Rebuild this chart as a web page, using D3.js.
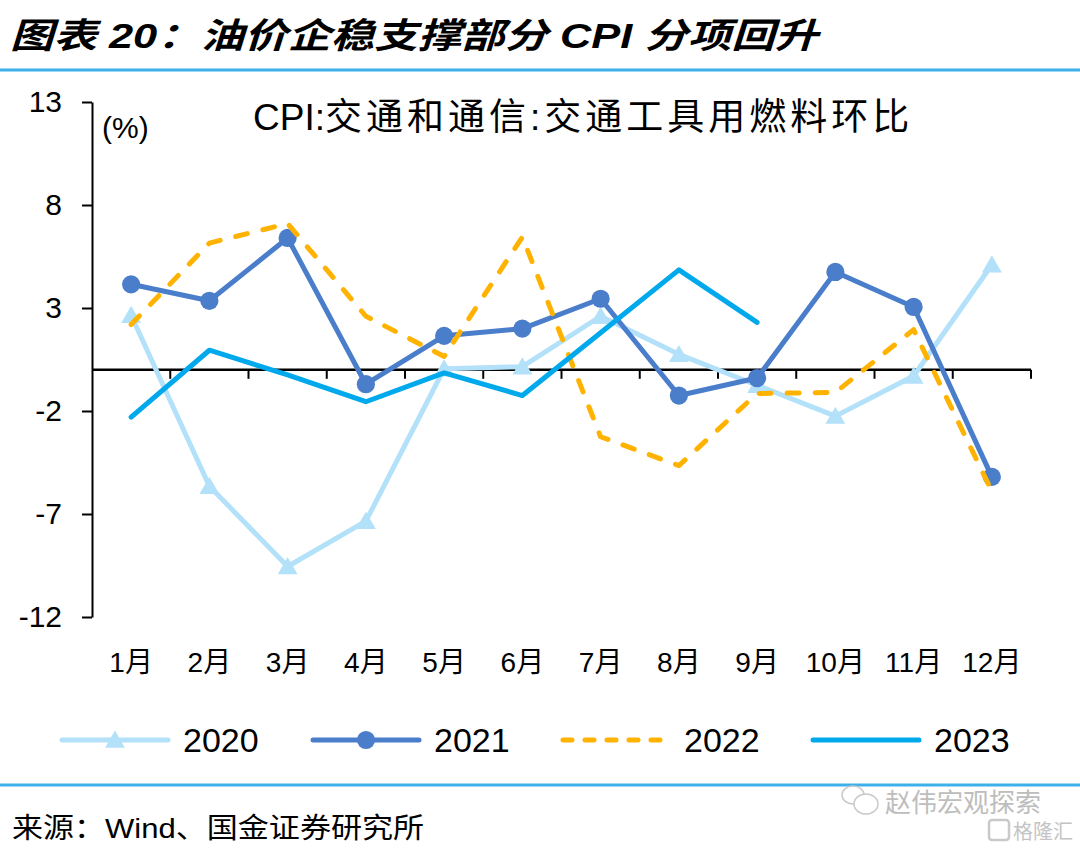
<!DOCTYPE html>
<html>
<head>
<meta charset="utf-8">
<script src="https://cdn.jsdelivr.net/npm/d3@7"></script>
<style>
  html, body { margin: 0; padding: 0; background: #fff; }
  svg { display: block; }
  text { font-family: "Liberation Sans", Arial, "Noto Sans CJK SC", sans-serif; fill: #000; }
</style>
</head>
<body>
<svg id="chart" width="1080" height="850"></svg>
<script>
// ---------- data ----------
const months = ["1月","2月","3月","4月","5月","6月","7月","8月","9月","10月","11月","12月"];
const yTicks = [13, 8, 3, -2, -7, -12];
const seriesNames = ["2020", "2021", "2022", "2023"];
const values2020 = [2.65, -5.65, -9.55, -7.35, 0.05, 0.15, 2.6, 0.75, -0.75, -2.25, -0.3, 5.1];
const values2021 = [4.15, 3.35, 6.4, -0.7, 1.65, 2.0, 3.45, -1.25, -0.4, 4.75, 3.05, -5.2];
const values2022 = [2.2, 6.15, 7.1, 2.6, 0.65, 6.45, -3.25, -4.65, -1.15, -1.1, 1.95, -5.9];
const values2023 = [-2.3, 0.95, -0.25, -1.55, -0.15, -1.25, 1.8, 4.85, 2.3];

const titleText = "图表 20：油价企稳支撑部分 CPI 分项回升";
const chartTitleLatin = "CPI:";
const chartTitleCjk = "交通和通信:交通工具用燃料环比";
const unitText = "(%)";
const sourceText = "来源：Wind、国金证券研究所";
const watermarkText = "赵伟宏观探索";
const logoText = "格隆汇";

// ---------- styles ----------
const styles = {
  "2020": { color: "#b3e1f9", dash: null, marker: "triangle" },
  "2021": { color: "#4a7dca", dash: null, marker: "circle" },
  "2022": { color: "#ffb300", dash: "12,16", marker: null },
  "2023": { color: "#00a8ec", dash: null, marker: null }
};
const seriesData = { "2020": values2020, "2021": values2021, "2022": values2022, "2023": values2023 };

const svg = d3.select("#chart");

// ---------- header / footer ----------
svg.append("text")
  .attr("x", 10).attr("y", 48)
  .attr("font-size", 35).attr("font-weight", "bold").attr("font-style", "italic")
  .attr("textLength", 808).attr("lengthAdjust", "spacingAndGlyphs")
  .text(titleText);

svg.append("line").attr("x1", 0).attr("x2", 1080).attr("y1", 70).attr("y2", 70)
  .attr("stroke", "#3db0ea").attr("stroke-width", 3);
svg.append("line").attr("x1", 0).attr("x2", 1080).attr("y1", 785).attr("y2", 785)
  .attr("stroke", "#3db0ea").attr("stroke-width", 3);

svg.append("text")
  .attr("x", 12).attr("y", 838)
  .attr("font-size", 28)
  .attr("textLength", 412).attr("lengthAdjust", "spacingAndGlyphs")
  .text(sourceText);

// watermark
const wm = svg.append("g").attr("fill", "none").attr("stroke", "#c9c9c9").attr("stroke-width", 1.5);
wm.append("ellipse").attr("cx", 853).attr("cy", 795).attr("rx", 11).attr("ry", 9);
wm.append("ellipse").attr("cx", 866).attr("cy", 804).attr("rx", 12).attr("ry", 10).attr("fill", "#fff");
svg.append("text").attr("x", 885).attr("y", 812).attr("font-size", 26)
  .style("fill", "#bdbdbd").text(watermarkText);
svg.append("rect").attr("x", 989).attr("y", 820).attr("width", 20).attr("height", 20)
  .attr("rx", 3).attr("fill", "none").attr("stroke", "#c9c9c9").attr("stroke-width", 2.5);
svg.append("text").attr("x", 1013).attr("y", 839).attr("font-size", 20)
  .style("fill", "#c4c4c4").text(logoText);

// ---------- scales ----------
const x = d3.scaleBand().domain(months).range([92, 1031]).padding(0);
const xc = m => x(m) + x.bandwidth() / 2;
const y = d3.scaleLinear().domain([-12, 13]).range([617, 102]);

// ---------- axes ----------
const yAxis = d3.axisLeft(y).tickValues(yTicks).tickSize(10).tickSizeOuter(0).tickFormat(d => String(d));
const gy = svg.append("g").attr("transform", `translate(${x.range()[0]},0)`).call(yAxis);
gy.select(".domain").attr("stroke", "#000").attr("stroke-width", 2);
gy.selectAll(".tick line").attr("stroke", "#000").attr("stroke-width", 2);
gy.selectAll(".tick text").attr("font-size", 30).attr("x", -30)
  .attr("font-family", "Liberation Sans, Arial, sans-serif").style("fill", "#000");

// x axis at zero
const boundaries = months.map(m => x(m)).concat([x.range()[1]]);
const gx = svg.append("g");
gx.append("line")
  .attr("x1", x.range()[0]).attr("x2", x.range()[1])
  .attr("y1", y(0)).attr("y2", y(0))
  .attr("stroke", "#000").attr("stroke-width", 2.5);
gx.selectAll("line.tk").data(boundaries.slice(1)).enter().append("line")
  .attr("class", "tk")
  .attr("x1", d => d).attr("x2", d => d)
  .attr("y1", y(0)).attr("y2", y(0) + 9)
  .attr("stroke", "#000").attr("stroke-width", 2);

svg.append("g").selectAll("text").data(months).enter().append("text")
  .attr("x", d => xc(d)).attr("y", 672)
  .attr("text-anchor", "middle").attr("font-size", 28)
  .text(d => d);

// unit & chart title
svg.append("text").attr("x", 102).attr("y", 138).attr("font-size", 30).text(unitText);
const ct = svg.append("text").attr("x", 253).attr("y", 130).attr("font-size", 37);
ct.append("tspan").text(chartTitleLatin);
ct.append("tspan").attr("letter-spacing", 4).text(chartTitleCjk);

// ---------- lines ----------
const line = d3.line().x(d => xc(d.m)).y(d => y(d.v));
const triangle = d3.symbol().type(d3.symbolTriangle).size(170);
const circle = d3.symbol().type(d3.symbolCircle).size(260);

seriesNames.forEach(name => {
  const st = styles[name];
  const pts = seriesData[name].map((v, i) => ({ m: months[i], v }));
  const g = svg.append("g");
  g.append("path").datum(pts)
    .attr("d", line)
    .attr("fill", "none")
    .attr("stroke", st.color)
    .attr("stroke-width", 5)
    .attr("stroke-linejoin", "round")
    .attr("stroke-linecap", "round")
    .attr("stroke-dasharray", st.dash);
  if (st.marker) {
    g.selectAll("path.mk").data(pts).enter().append("path")
      .attr("class", "mk")
      .attr("d", st.marker === "triangle" ? triangle : circle)
      .attr("transform", d => `translate(${xc(d.m)},${y(d.v) + (st.marker === "triangle" ? 2 : 0)})`)
      .attr("fill", st.color);
  }
});

// ---------- legend ----------
const legendX = [62, 313, 563, 813];
const legendY = 740;
seriesNames.forEach((name, i) => {
  const st = styles[name];
  const g = svg.append("g").attr("transform", `translate(${legendX[i]},${legendY})`);
  g.append("line").attr("x1", 0).attr("x2", 106).attr("y1", 0).attr("y2", 0)
    .attr("stroke", st.color).attr("stroke-width", 5).attr("stroke-linecap", "round")
    .attr("stroke-dasharray", st.dash ? "9,13" : null);
  if (st.marker) {
    g.append("path")
      .attr("d", st.marker === "triangle" ? triangle : circle)
      .attr("transform", `translate(53,${st.marker === "triangle" ? 2 : 0})`)
      .attr("fill", st.color);
  }
  g.append("text").attr("x", 121).attr("y", 12).attr("font-size", 34).text(name);
});
</script>
</body>
</html>
